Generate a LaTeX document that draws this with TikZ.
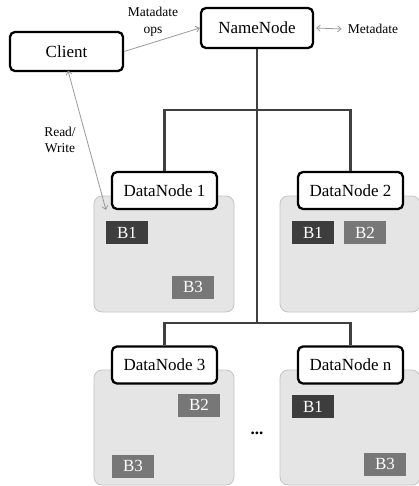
\documentclass[tikz,border=0pt]{standalone}
\usepackage{fontspec}
\setmainfont{Liberation Serif}
\usetikzlibrary{arrows.meta}
\definecolor{panelfill}{HTML}{E5E5E5}
\definecolor{paneldraw}{HTML}{C4C4C4}
\definecolor{blkdark}{HTML}{3D3D3D}
\definecolor{blkmid}{HTML}{777777}
\definecolor{treeline}{HTML}{404040}
\definecolor{arrowgray}{HTML}{9A9A9A}
\begin{document}
\begin{tikzpicture}[x=1pt,y=-1pt,
  box/.style={draw=black, line width=2.3pt, rounded corners=5pt, fill=white,
    font=\fontsize{17}{19}\selectfont, inner sep=0pt},
  panel/.style={draw=paneldraw, line width=0.8pt, fill=panelfill, rounded corners=8pt,
    minimum width=140pt, minimum height=116pt, inner sep=0pt},
  blk/.style={minimum width=42pt, minimum height=23pt, inner sep=0pt, text=white,
    font=\fontsize{17}{19}\selectfont},
  dark/.style={blk, fill=blkdark},
  mid/.style={blk, fill=blkmid},
  tree/.style={draw=treeline, line width=2.3pt},
  garrow/.style={draw=arrowgray, line width=0.8pt,
    {Straight Barb[length=3.5pt,width=6pt]}-{Straight Barb[length=3.5pt,width=6pt]}},
  lbl/.style={font=\fontsize{13.5}{16.5}\selectfont, align=center, inner sep=0pt}
]
\useasboundingbox (0,0) rectangle (419,486);

% panels
\node[panel] (p1) at (164,254) {};
\node[panel] (p2) at (350,254) {};
\node[panel, minimum height=115pt] (p3) at (164,427.5) {};
\node[panel, minimum height=115pt] (p4) at (350,427.5) {};

% blocks
\node[dark] (b11) at (127,232.5) {B1};
\node[mid]  (b13) at (193,287) {B3};
\node[dark] (b21) at (313,232.5) {B1};
\node[mid]  (b22) at (365,232.5) {B2};
\node[mid]  (b32) at (199,405) {B2};
\node[mid]  (b33) at (133,466) {B3};
\node[dark] (bn1) at (313,406.5) {B1};
\node[mid]  (bn3) at (385,464) {B3};

% main boxes
\node[box, minimum width=113pt, minimum height=39pt] (client) at (66.5,51.5) {Client};
\node[box, minimum width=112pt, minimum height=40pt] (nn) at (257,28) {NameNode};
\node[box, minimum width=105pt, minimum height=37pt] (dn1) at (164.5,190.5) {DataNode 1};
\node[box, minimum width=105pt, minimum height=37pt] (dn2) at (350.5,190.5) {DataNode 2};
\node[box, minimum width=105pt, minimum height=37pt] (dn3) at (164.5,365) {DataNode 3};
\node[box, minimum width=105pt, minimum height=37pt] (dnn) at (350.5,365) {DataNode n};

% tree
\coordinate (j1) at (257,110);
\coordinate (j2) at (257,323);
\draw[tree] (nn.south) -- (j2);
\draw[tree] (dn1.north) |- (j1) -| (dn2.north);
\draw[tree] (dn3.north) |- (j2) -| (dnn.north);

% labels
\node[lbl] (ops) at (153,22) {Matadate\\ops};
\node[lbl] (meta) at (373,29) {Metadate};
\node[lbl] (rw) at (60,140) {Read/\\Write};
\node[font=\fontsize{17}{19}\selectfont\bfseries, inner sep=0pt] (dots) at (257,433) {...};

% arrows
\draw[garrow, -{Straight Barb[length=3.5pt,width=6pt]}] (client.east) -- (nn.west);
\draw[garrow] ([xshift=2pt]nn.east) -- ([xshift=-6pt]meta.west);
\coordinate (rwend) at (106,210);
\draw[garrow] ([xshift=1.5pt,yshift=1.5pt]client.south) -- (rwend);
\end{tikzpicture}
\end{document}
